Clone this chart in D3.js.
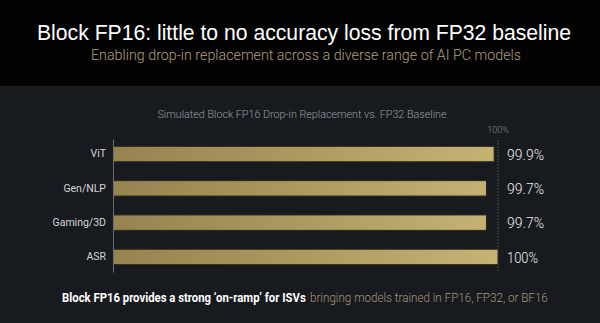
<!DOCTYPE html>
<html>
<head>
<meta charset="utf-8">
<script src="https://cdn.jsdelivr.net/npm/d3@7"></script>
<style>
  html, body { margin: 0; padding: 0; background: #171a1e; }
  svg { display: block; }
</style>
</head>
<body>
<svg id="chart" width="600" height="323"></svg>
<script>
// Model families and their accuracy relative to the FP32 baseline (%)
const categories = ["ViT", "Gen/NLP", "Gaming/3D", "ASR"];
const accuracy = [99.9, 99.7, 99.7, 100];
const baselineTick = [100];

const svg = d3.select("#chart");
const W = 600, H = 323;

// backgrounds
svg.append("rect").attr("width", W).attr("height", H).attr("fill", "#171a1e");
svg.append("rect").attr("width", W).attr("height", 86).attr("fill", "#030303");

// headline + subheading
svg.append("text")
  .attr("x", 304).attr("y", 40)
  .attr("text-anchor", "middle")
  .attr("font-family", "Liberation Sans, Arial, sans-serif")
  .attr("font-size", 22)
  .attr("fill", "#ffffff")
  .attr("textLength", 534).attr("lengthAdjust", "spacingAndGlyphs")
  .text("Block FP16: little to no accuracy loss from FP32 baseline");

svg.append("text")
  .attr("x", 306).attr("y", 60)
  .attr("text-anchor", "middle")
  .attr("font-family", "Roboto, sans-serif")
  .attr("font-weight", 300)
  .attr("font-size", 14.5)
  .attr("fill", "#b09e7c")
  .attr("textLength", 430).attr("lengthAdjust", "spacingAndGlyphs")
  .text("Enabling drop-in replacement across a diverse range of AI PC models");

// chart title
svg.append("text")
  .attr("x", 302).attr("y", 118)
  .attr("text-anchor", "middle")
  .attr("font-family", "Roboto, sans-serif")
  .attr("font-weight", 300)
  .attr("font-size", 11.5)
  .attr("fill", "#9a9ea4")
  .attr("textLength", 289).attr("lengthAdjust", "spacingAndGlyphs")
  .text("Simulated Block FP16 Drop-in Replacement vs. FP32 Baseline");

// scales
const x = d3.scaleLinear().domain([90, 100]).range([113, 498]);
const y = d3.scaleBand().domain(categories).range([139, 272])
  .paddingInner(0.55).paddingOuter(0.214);

// bar gradient
const defs = svg.append("defs");
const grad = defs.append("linearGradient").attr("id", "gold")
  .attr("gradientUnits", "userSpaceOnUse")
  .attr("x1", 113).attr("x2", 498).attr("y1", 0).attr("y2", 0);
grad.append("stop").attr("offset", "0%").attr("stop-color", "#968350");
grad.append("stop").attr("offset", "50%").attr("stop-color", "#ac9a60");
grad.append("stop").attr("offset", "100%").attr("stop-color", "#c6b374");

// 100% reference line
svg.append("g").selectAll("line").data(baselineTick).join("line")
  .attr("x1", d => x(d)).attr("x2", d => x(d))
  .attr("y1", 140).attr("y2", 272)
  .attr("stroke", "#4a4d52").attr("stroke-width", 1)
  .attr("stroke-dasharray", "2,1");
svg.append("g").selectAll("text").data(baselineTick).join("text")
  .attr("x", d => x(d)).attr("y", 133)
  .attr("text-anchor", "middle")
  .attr("font-family", "Roboto, sans-serif")
  .attr("font-weight", 300)
  .attr("font-size", 9)
  .attr("fill", "#8a8d92")
  .text(d => d + "%");

// bars
svg.append("g").selectAll("rect").data(accuracy).join("rect")
  .attr("x", x(90))
  .attr("y", (d, i) => y(categories[i]))
  .attr("width", d => x(d) - x(90))
  .attr("height", y.bandwidth())
  .attr("fill", "url(#gold)")
  .attr("stroke", "#2b2719").attr("stroke-width", 1);

// category axis
const yAxis = svg.append("g")
  .attr("transform", "translate(113,0)")
  .call(d3.axisLeft(y).tickSize(0).tickPadding(7));
yAxis.select(".domain").attr("stroke", "#6a6d72").attr("stroke-width", 1);
yAxis.selectAll("text")
  .attr("font-family", "Roboto, sans-serif")
  .attr("font-size", 10.5)
  .attr("fill", "#d4d5d8");

// value labels
const fmt = d3.format(".3~r");
svg.append("g").selectAll("text").data(accuracy).join("text")
  .attr("x", 507)
  .attr("y", (d, i) => y(categories[i]) + y.bandwidth() / 2)
  .attr("dy", "0.36em")
  .attr("font-family", "Roboto, sans-serif")
  .attr("font-weight", 300)
  .attr("font-size", 15.5)
  .attr("fill", "#f0f0f0")
  .attr("textLength", (d) => d === 100 ? 31 : 37)
  .attr("lengthAdjust", "spacingAndGlyphs")
  .text(d => fmt(d) + "%");

// footer: bold lead-in followed by lighter continuation,
// each squeezed horizontally to its target width
function squeezed(left, width, weight, fill, str) {
  const t = svg.append("text")
    .attr("x", 0).attr("y", 0)
    .attr("font-family", "Roboto, sans-serif")
    .attr("font-size", 13)
    .attr("font-weight", weight)
    .attr("fill", fill)
    .text(str);
  const natural = t.node().getComputedTextLength();
  t.attr("transform", `translate(${left},302) scale(${width / natural},1)`);
}
squeezed(62, 244, 700, "#ffffff", "Block FP16 provides a strong \u2018on-ramp\u2019 for ISVs");
squeezed(310, 238, 300, "#a8977a", "bringing models trained in FP16, FP32, or BF16");
</script>
</body>
</html>
